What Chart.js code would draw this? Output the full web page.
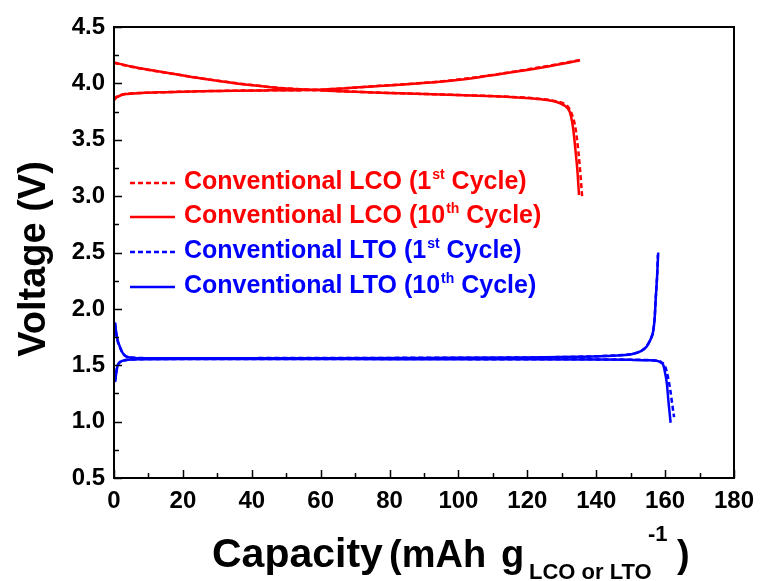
<!DOCTYPE html>
<html>
<head>
<meta charset="utf-8">
<script src="https://cdn.jsdelivr.net/npm/chart.js@4.4.1/dist/chart.umd.min.js"></script>
<style>
  html, body { margin: 0; padding: 0; background: #fff; }
</style>
</head>
<body>
<canvas id="voltage-chart" width="760" height="581"></canvas>
<script>
// tick labels
const xTicks = [0, 20, 40, 60, 80, 100, 120, 140, 160, 180];
const yTicks = [0.5, 1.0, 1.5, 2.0, 2.5, 3.0, 3.5, 4.0, 4.5];

// LCO, 10th cycle
const lcoCharge10X = [0, 0.5, 1, 2, 3.2, 8, 15, 25, 35, 45, 54, 58, 65, 77, 87, 97, 106, 116, 126, 131, 135.3];
const lcoCharge10Y = [3.85, 3.87, 3.88, 3.895, 3.905, 3.915, 3.922, 3.93, 3.935, 3.938, 3.94, 3.942, 3.952, 3.977, 3.997, 4.022, 4.055, 4.10, 4.15, 4.178, 4.205];
const lcoDis10X = [0, 5, 10.5, 18, 25, 32, 39.5, 47, 54, 62, 70, 77, 90, 106, 115, 121, 125.7, 128.5, 130.4, 131.5, 132.4, 133.3, 134, 134.6, 135];
const lcoDis10Y = [4.185, 4.15, 4.118, 4.08, 4.045, 4.015, 3.986, 3.962, 3.947, 3.935, 3.925, 3.917, 3.905, 3.89, 3.88, 3.868, 3.853, 3.835, 3.81, 3.785, 3.74, 3.6, 3.4, 3.2, 3.01];

// LCO, 1st cycle
const lcoCharge1X = [0, 0.5, 1, 2, 3.2, 8, 15, 25, 35, 45, 54, 58, 65, 77, 87, 97, 106, 116, 126, 131, 135.9];
const lcoCharge1Y = [3.86, 3.875, 3.885, 3.897, 3.906, 3.915, 3.922, 3.93, 3.935, 3.938, 3.94, 3.942, 3.953, 3.978, 3.998, 4.024, 4.058, 4.104, 4.155, 4.183, 4.21];
const lcoDis1X = [0, 5, 10.5, 18, 25, 32, 39.5, 47, 54, 62, 70, 77, 90, 106, 115, 121, 125.7, 128.5, 130.6, 132, 133, 134, 134.8, 135.4, 135.9];
const lcoDis1Y = [4.18, 4.148, 4.117, 4.08, 4.046, 4.016, 3.987, 3.963, 3.948, 3.936, 3.926, 3.918, 3.906, 3.891, 3.881, 3.87, 3.856, 3.84, 3.82, 3.785, 3.72, 3.6, 3.4, 3.2, 3.0];

// LTO, 10th cycle
const ltoCharge10X = [0.3, 0.6, 1, 1.7, 2.5, 3.7, 6, 10, 30, 60, 90, 120, 135, 145, 150, 153, 154.6, 155.8, 156.6, 157, 157.3, 157.7, 158];
const ltoCharge10Y = [1.88, 1.8, 1.73, 1.665, 1.61, 1.576, 1.565, 1.562, 1.562, 1.563, 1.565, 1.568, 1.575, 1.585, 1.597, 1.625, 1.665, 1.73, 1.81, 1.93, 2.1, 2.3, 2.5];
const ltoDis10X = [0.3, 0.6, 1, 1.5, 2.4, 4, 8, 20, 50, 80, 110, 140, 150, 155, 157.5, 158.7, 159.5, 160, 160.5, 161, 161.6];
const ltoDis10Y = [1.35, 1.42, 1.49, 1.52, 1.538, 1.548, 1.553, 1.555, 1.555, 1.554, 1.553, 1.551, 1.548, 1.545, 1.54, 1.525, 1.5, 1.43, 1.34, 1.17, 0.99];

// LTO, 1st cycle
const ltoCharge1X = [0.3, 0.6, 1, 1.7, 2.5, 3.7, 6, 10, 30, 60, 90, 120, 135, 145, 150, 153, 154.6, 155.8, 156.6, 157, 157.3, 157.7, 157.9];
const ltoCharge1Y = [1.87, 1.79, 1.72, 1.66, 1.608, 1.575, 1.566, 1.563, 1.563, 1.564, 1.566, 1.569, 1.576, 1.586, 1.598, 1.627, 1.668, 1.735, 1.815, 1.94, 2.11, 2.31, 2.48];
const ltoDis1X = [0.3, 0.6, 1, 1.5, 2.4, 4, 8, 20, 50, 80, 110, 140, 150, 155, 157.8, 159, 160, 160.8, 161.5, 162, 162.6];
const ltoDis1Y = [1.36, 1.43, 1.495, 1.522, 1.539, 1.549, 1.554, 1.556, 1.556, 1.555, 1.554, 1.552, 1.549, 1.546, 1.54, 1.525, 1.49, 1.4, 1.28, 1.17, 1.04];

const legendItems = [
    { pre: 'Conventional LCO (1', sup: 'st', post: ' Cycle)', color: '#ff0000', dashed: true },
    { pre: 'Conventional LCO (10', sup: 'th', post: ' Cycle)', color: '#ff0000', dashed: false },
    { pre: 'Conventional LTO (1', sup: 'st', post: ' Cycle)', color: '#0000ff', dashed: true },
    { pre: 'Conventional LTO (10', sup: 'th', post: ' Cycle)', color: '#0000ff', dashed: false }
];

const RED = '#ff0000';
const BLUE = '#0000ff';
const FONT = '"Liberation Sans", Arial, Helvetica, sans-serif';

function toPoints(xs, ys) {
    return xs.map((x, i) => ({ x: x, y: ys[i] }));
}

function makeLine(label, xs, ys, color, dashed) {
    return {
        label: label,
        data: toPoints(xs, ys),
        borderColor: color,
        borderWidth: 2.5,
        borderDash: dashed ? [5, 3] : [],
        pointRadius: 0,
        fill: false,
        cubicInterpolationMode: 'monotone'
    };
}

// frame, inward ticks, legend with superscripts and axis titles
const decorations = {
    id: 'decorations',
    afterDraw(chart) {
        const ctx = chart.ctx;
        const area = chart.chartArea;
        const xs = chart.scales.x;
        const ys = chart.scales.y;
        ctx.save();

        ctx.strokeStyle = '#000';
        ctx.lineWidth = 1.5;
        for (let i = 0; i < xTicks.length; i++) {
            const px = Math.round(xs.getPixelForValue(xTicks[i])) + 0.5;
            ctx.beginPath();
            ctx.moveTo(px, area.bottom);
            ctx.lineTo(px, area.bottom - 8);
            ctx.stroke();
            if (i < xTicks.length - 1) {
                const mx = Math.round(xs.getPixelForValue((xTicks[i] + xTicks[i + 1]) / 2)) + 0.5;
                ctx.beginPath();
                ctx.moveTo(mx, area.bottom);
                ctx.lineTo(mx, area.bottom - 5);
                ctx.stroke();
            }
        }
        for (let i = 0; i < yTicks.length; i++) {
            const py = Math.round(ys.getPixelForValue(yTicks[i])) + 0.5;
            ctx.beginPath();
            ctx.moveTo(area.left, py);
            ctx.lineTo(area.left + 8, py);
            ctx.stroke();
            if (i < yTicks.length - 1) {
                const my = Math.round(ys.getPixelForValue((yTicks[i] + yTicks[i + 1]) / 2)) + 0.5;
                ctx.beginPath();
                ctx.moveTo(area.left, my);
                ctx.lineTo(area.left + 5, my);
                ctx.stroke();
            }
        }

        ctx.lineWidth = 2;
        ctx.strokeRect(area.left, area.top, area.right - area.left, area.bottom - area.top);

        // legend
        const rows = [183, 217, 252, 287];
        legendItems.forEach((item, i) => {
            const y = rows[i];
            ctx.strokeStyle = item.color;
            ctx.lineWidth = 2.5;
            ctx.setLineDash(item.dashed ? [5, 3] : []);
            ctx.beginPath();
            ctx.moveTo(130, y);
            ctx.lineTo(175, y);
            ctx.stroke();
            ctx.setLineDash([]);

            ctx.fillStyle = item.color;
            ctx.textBaseline = 'alphabetic';
            ctx.textAlign = 'left';
            let tx = 184;
            ctx.font = 'bold 25px ' + FONT;
            ctx.fillText(item.pre, tx, y + 6);
            tx += ctx.measureText(item.pre).width + 1;
            ctx.font = 'bold 14px ' + FONT;
            ctx.fillText(item.sup, tx, y - 4);
            tx += ctx.measureText(item.sup).width;
            ctx.font = 'bold 25px ' + FONT;
            ctx.fillText(item.post, tx, y + 6);
        });

        // x title
        ctx.fillStyle = '#000';
        ctx.font = 'bold 41px ' + FONT;
        ctx.fillText('Capacity', 212, 567);
        ctx.font = 'bold 38px ' + FONT;
        ctx.fillText('(mAh', 389, 567);
        ctx.fillText('g', 501, 567);
        ctx.font = 'bold 22px ' + FONT;
        ctx.fillText('LCO or LTO', 529, 579);
        ctx.fillText('-1', 648, 541);
        ctx.font = 'bold 38px ' + FONT;
        ctx.fillText(')', 677, 567);

        // y title
        ctx.save();
        ctx.translate(45, 259);
        ctx.rotate(-Math.PI / 2);
        ctx.textAlign = 'center';
        ctx.font = 'bold 38px ' + FONT;
        ctx.fillText('Voltage (V)', 0, 0);
        ctx.restore();

        ctx.restore();
    }
};

const tickFont = { family: FONT, size: 24, weight: 'bold' };

const ctx = document.getElementById('voltage-chart');
//eslint-disable-next-line no-undef
new Chart(ctx, {
    type: 'line',
    data: {
        datasets: [
            makeLine('Conventional LTO (10th Cycle) charge', ltoCharge10X, ltoCharge10Y, BLUE, false),
            makeLine('Conventional LTO (10th Cycle) discharge', ltoDis10X, ltoDis10Y, BLUE, false),
            makeLine('Conventional LCO (10th Cycle) charge', lcoCharge10X, lcoCharge10Y, RED, false),
            makeLine('Conventional LCO (10th Cycle) discharge', lcoDis10X, lcoDis10Y, RED, false),
            makeLine('Conventional LTO (1st Cycle) charge', ltoCharge1X, ltoCharge1Y, BLUE, true),
            makeLine('Conventional LTO (1st Cycle) discharge', ltoDis1X, ltoDis1Y, BLUE, true),
            makeLine('Conventional LCO (1st Cycle) charge', lcoCharge1X, lcoCharge1Y, RED, true),
            makeLine('Conventional LCO (1st Cycle) discharge', lcoDis1X, lcoDis1Y, RED, true)
        ]
    },
    options: {
        responsive: false,
        animation: false,
        devicePixelRatio: 1,
        layout: { padding: { top: 27, right: 26, left: 0, bottom: 0 } },
        plugins: {
            legend: { display: false },
            tooltip: { enabled: false }
        },
        scales: {
            x: {
                type: 'linear',
                min: 0,
                max: 180,
                afterBuildTicks: (scale) => { scale.ticks = xTicks.map(v => ({ value: v })); },
                afterFit: (scale) => {
                    scale.height = 103;
                    scale.paddingLeft = 0;
                    scale.paddingRight = 0;
                },
                grid: { display: false, drawTicks: false },
                border: { display: false },
                ticks: { font: tickFont, color: '#000', padding: 9, maxRotation: 0, autoSkip: false }
            },
            y: {
                type: 'linear',
                min: 0.5,
                max: 4.5,
                afterBuildTicks: (scale) => { scale.ticks = yTicks.map(v => ({ value: v })); },
                afterFit: (scale) => {
                    scale.width = 114;
                    scale.paddingTop = 0;
                    scale.paddingBottom = 0;
                },
                grid: { display: false, drawTicks: false },
                border: { display: false },
                ticks: {
                    font: tickFont,
                    color: '#000',
                    padding: 9,
                    autoSkip: false,
                    callback: (v) => Number(v).toFixed(1)
                }
            }
        }
    },
    plugins: [decorations]
});
</script>
</body>
</html>
